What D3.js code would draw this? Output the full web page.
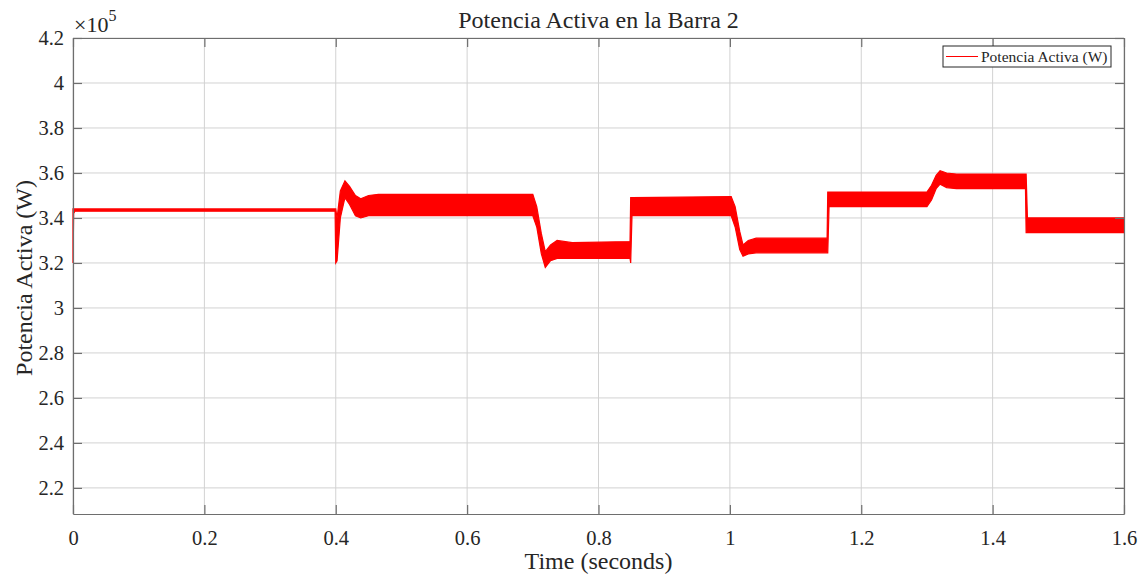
<!DOCTYPE html>
<html>
<head>
<meta charset="utf-8">
<script src="https://cdn.jsdelivr.net/npm/d3@7"></script>
<style>
  body { margin: 0; background: #fff; }
  text { font-family: "Liberation Serif", "Times New Roman", serif; fill: #262626; }
</style>
</head>
<body>
<div id="chart"></div>
<script>
// envelope of the simulated signal (x10^5 W)
let times = [0, 0.001, 0.003, 0.399, 0.400, 0.402, 0.407, 0.414, 0.421, 0.430, 0.438, 0.450, 0.465,
             0.700, 0.706, 0.713, 0.719, 0.727, 0.737, 0.760, 0.848, 0.849, 0.851,
             1.002, 1.008, 1.015, 1.020, 1.028, 1.040, 1.148, 1.149, 1.151,
             1.300, 1.307, 1.314, 1.320, 1.330, 1.345, 1.450, 1.451, 1.453, 1.600];
let upper = [3.44, 3.44, 3.44, 3.44, 3.44, 3.40, 3.52, 3.565, 3.54, 3.50, 3.485, 3.50, 3.505,
             3.505, 3.45, 3.33, 3.25, 3.28, 3.30, 3.29, 3.295, 3.49, 3.49,
             3.495, 3.45, 3.34, 3.28, 3.30, 3.31, 3.31, 3.515, 3.515,
             3.515, 3.545, 3.59, 3.61, 3.60, 3.595, 3.595, 3.595, 3.40, 3.40];
let lower = [3.20, 3.42, 3.43, 3.43, 3.20, 3.21, 3.40, 3.49, 3.46, 3.41, 3.40, 3.41, 3.41,
             3.41, 3.36, 3.24, 3.18, 3.21, 3.22, 3.22, 3.22, 3.20, 3.41,
             3.41, 3.36, 3.26, 3.23, 3.24, 3.245, 3.245, 3.245, 3.45,
             3.45, 3.48, 3.53, 3.55, 3.535, 3.53, 3.53, 3.335, 3.335, 3.335];

let xTicks = [0, 0.2, 0.4, 0.6, 0.8, 1, 1.2, 1.4, 1.6];
let yTicks = [2.2, 2.4, 2.6, 2.8, 3, 3.2, 3.4, 3.6, 3.8, 4, 4.2];

let colorRed = "#ff0000";
let colorGrid = "#d2d2d2";
let colorAxis = "#6e6e6e";

let width = 1145,
    height = 577;
let margin = {top: 38, right: 21, bottom: 63, left: 73};
let innerW = width - margin.left - margin.right,
    innerH = height - margin.top - margin.bottom;

let svg = d3.select("#chart")
    .append("svg")
    .attr("width", width)
    .attr("height", height);

let g = svg.append("g")
    .attr("transform", "translate(" + margin.left + "," + margin.top + ")");

let x = d3.scaleLinear().domain([0, 1.6]).range([0, innerW]);
let y = d3.scaleLinear().domain([2.084, 4.2]).range([innerH, 0]);

// grid
g.selectAll(".xgrid")
    .data(xTicks)
    .enter()
    .append("line")
    .attr("x1", d => x(d)).attr("x2", d => x(d))
    .attr("y1", 0).attr("y2", innerH)
    .style("stroke", colorGrid);

g.selectAll(".ygrid")
    .data(yTicks)
    .enter()
    .append("line")
    .attr("x1", 0).attr("x2", innerW)
    .attr("y1", d => y(d)).attr("y2", d => y(d))
    .style("stroke", colorGrid);

// signal band
let pts = times.map((t, i) => ({t: t, hi: upper[i], lo: lower[i]}));
let area = d3.area()
    .x(d => x(d.t))
    .y0(d => y(d.lo))
    .y1(d => y(d.hi));

g.append("path")
    .datum(pts)
    .attr("d", area)
    .style("fill", colorRed)
    .style("stroke", colorRed)
    .style("stroke-width", 1.2);

// axes
let xAxis = d3.axisBottom(x).tickValues(xTicks).tickSizeInner(-9).tickSizeOuter(0)
    .tickPadding(16).tickFormat(d3.format("~g"));
let yAxis = d3.axisLeft(y).tickValues(yTicks).tickSizeInner(-9).tickSizeOuter(0)
    .tickPadding(9).tickFormat(d3.format("~g"));

let gx = g.append("g").attr("transform", "translate(0," + innerH + ")").call(xAxis);
let gy = g.append("g").call(yAxis);

// mirrored axes on top and right
let gxt = g.append("g").call(d3.axisTop(x).tickValues(xTicks).tickSizeInner(-9).tickSizeOuter(0).tickFormat(""));
let gyr = g.append("g").attr("transform", "translate(" + innerW + ",0)")
    .call(d3.axisRight(y).tickValues(yTicks).tickSizeInner(-9).tickSizeOuter(0).tickFormat(""));

[gx, gy, gxt, gyr].forEach(a => {
    a.selectAll("path, line").style("stroke", colorAxis).style("stroke-width", 1.2);
    a.selectAll("text")
        .style("font-family", "'Liberation Serif', serif")
        .style("font-size", "20.5px")
        .style("fill", "#262626");
});

// exponent label
let expo = svg.append("text")
    .attr("x", 74)
    .attr("y", 32)
    .style("font-size", "22px");
expo.append("tspan").text("\u00d710");
expo.append("tspan").attr("dy", -11).style("font-size", "16px").text("5");

// title and axis labels
svg.append("text")
    .attr("x", margin.left + innerW / 2)
    .attr("y", 28)
    .attr("text-anchor", "middle")
    .style("font-size", "24px")
    .text("Potencia Activa en la Barra 2");

svg.append("text")
    .attr("x", margin.left + innerW / 2)
    .attr("y", 569)
    .attr("text-anchor", "middle")
    .style("font-size", "24px")
    .text("Time (seconds)");

svg.append("text")
    .attr("transform", "translate(32," + 278 + ") rotate(-90)")
    .attr("text-anchor", "middle")
    .style("font-size", "24px")
    .text("Potencia Activa (W)");

// legend
let legend = svg.append("g").attr("transform", "translate(943,46)");
legend.append("rect")
    .attr("width", 168).attr("height", 21)
    .style("fill", "#fff")
    .style("stroke", "#262626")
    .style("stroke-width", 1);
legend.append("line")
    .attr("x1", 3).attr("x2", 35)
    .attr("y1", 10.5).attr("y2", 10.5)
    .style("stroke", colorRed)
    .style("stroke-width", 1);
legend.append("text")
    .attr("x", 38)
    .attr("y", 16)
    .style("font-size", "15.5px")
    .text("Potencia Activa (W)");
</script>
</body>
</html>
